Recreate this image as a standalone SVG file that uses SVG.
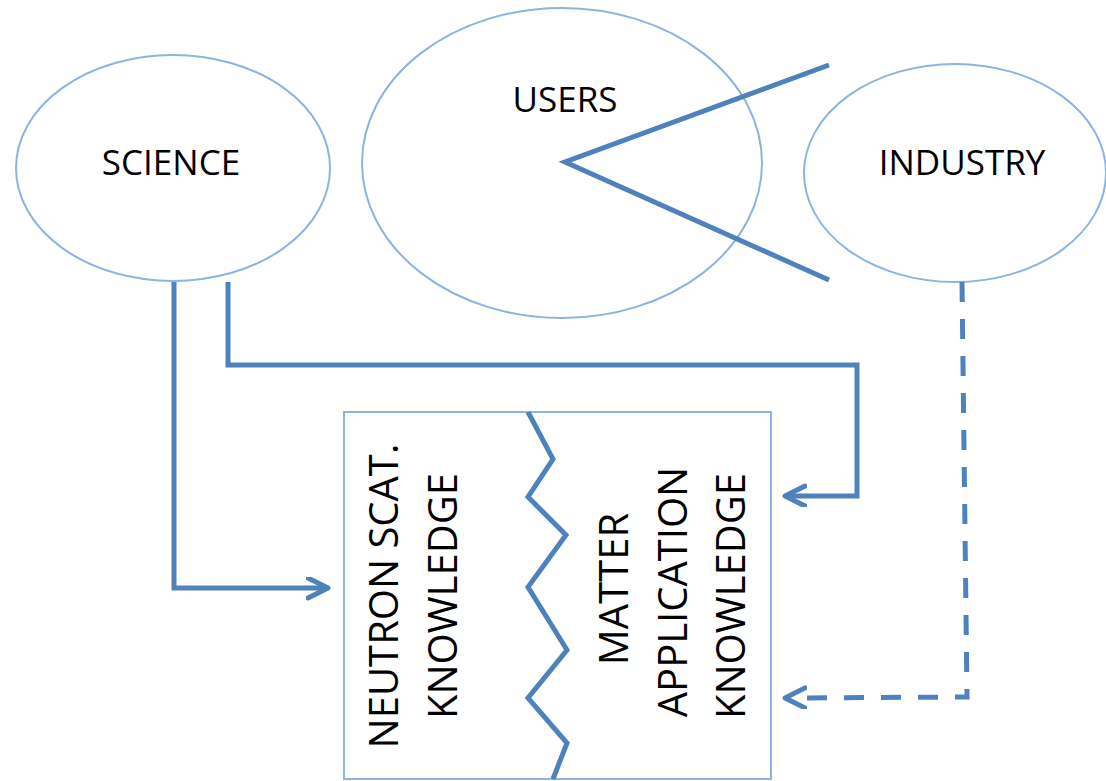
<svg xmlns="http://www.w3.org/2000/svg" width="1106" height="781" viewBox="0 0 1106 781">
<style>
.node{fill:#ffffff;stroke:#8DB3E2;stroke-width:2}
.lbl{font-family:"Open Sans","Noto Sans",sans-serif;font-size:35px;fill:#000;text-anchor:middle}
.vl{font-family:"Open Sans","Noto Sans",sans-serif;font-size:40px;fill:#000;text-anchor:middle}
.conn{fill:none;stroke:#4F81BD;stroke-width:5}
.dash{stroke-dasharray:20 17}
</style>
<defs>
<marker id="arr" markerWidth="26" markerHeight="26" refX="22" refY="11" orient="auto" markerUnits="userSpaceOnUse">
<path d="M2,1 L22,11 L2,21" fill="none" stroke="#4F81BD" stroke-width="5" stroke-linecap="round" stroke-linejoin="round"/>
</marker>
</defs>
<rect width="1106" height="781" fill="#ffffff"/>
<g id="science">
<ellipse class="node" cx="173" cy="168" rx="157" ry="113"/>
<text class="lbl" x="171" y="175">SCIENCE</text>
</g>
<g id="users">
<ellipse class="node" cx="562" cy="163" rx="200" ry="155"/>
<text class="lbl" x="565" y="112">USERS</text>
</g>
<g id="industry">
<ellipse class="node" cx="955" cy="173" rx="151" ry="109"/>
<text class="lbl" x="962" y="175">INDUSTRY</text>
</g>
<g id="knowledge">
<rect class="node" x="344" y="412" width="427" height="367"/>
<polyline class="conn" points="528,412 553,459 528,497 566,535 528,587 567,650 528,698 567,743 553,779" stroke-linejoin="miter"/>
<text class="vl" transform="translate(398,596) rotate(-90)">NEUTRON SCAT.</text>
<text class="vl" transform="translate(457,596) rotate(-90)">KNOWLEDGE</text>
<text class="vl" transform="translate(628,589) rotate(-90)">MATTER</text>
<text class="vl" transform="translate(687,592) rotate(-90)">APPLICATION</text>
<text class="vl" transform="translate(745,596) rotate(-90)">KNOWLEDGE</text>
</g>
<g id="connectors">
<polyline class="conn" points="829,65 565,162 829,280"/>
<polyline class="conn" points="174,282 174,588 328,588" marker-end="url(#arr)"/>
<polyline class="conn" points="228,282 228,365 857,365 857,496 785,496" marker-end="url(#arr)"/>
<polyline class="conn dash" points="962,282 967,697 785,698" marker-end="url(#arr)"/>
</g>
</svg>
